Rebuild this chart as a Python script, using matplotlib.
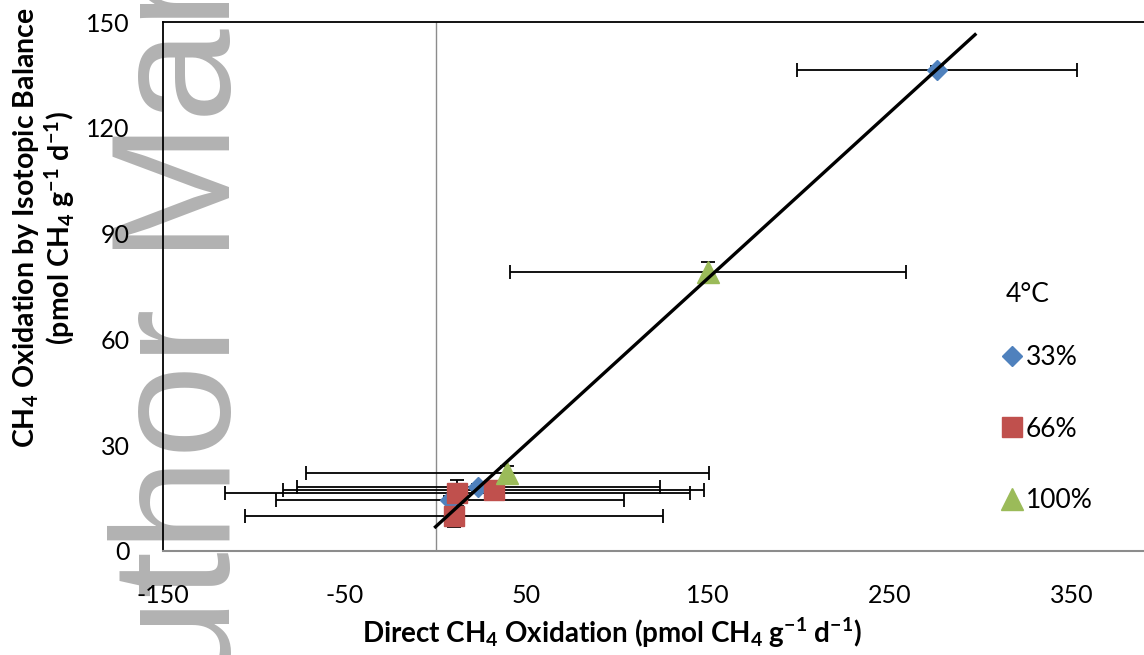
import numpy as np
import matplotlib
matplotlib.use("Agg")
import matplotlib.pyplot as plt
from matplotlib.lines import Line2D

# 4 degC incubations: direct oxidation (x) vs. isotopic balance estimate (y)
pct33_x = [276, 23.5, 8]
pct33_y = [136.4, 18.1, 14.5]
pct33_xerr = [77, 100, 96]
pct33_yerr = [1, 1, 1]

pct66_x = [12, 32, 10]
pct66_y = [16.4, 17.3, 9.8]
pct66_xerr = [128, 116, 115]
pct66_yerr = [3.6, 1, 3]

pct100_x = [39.5, 150]
pct100_y = [22.2, 79]
pct100_xerr = [111, 109]
pct100_yerr = [2, 3]

series_labels = ["33%", "66%", "100%"]
legend_title = "4°C"
x_ticks = [-150, -50, 50, 150, 250, 350]
y_ticks = [0, 30, 60, 90, 120, 150]
trend_span = [0, 297]

BLUE = "#4F81BD"
RED = "#C0504D"
GREEN = "#9BBB59"

plt.rcParams["font.family"] = ["Lato", "DejaVu Sans"]
plt.rcParams["mathtext.default"] = "regular"
plt.rcParams["axes.unicode_minus"] = False

W, H = 1144, 655
fig = plt.figure(figsize=(W / 100, H / 100), dpi=100)
ax = fig.add_axes([163 / W, 1 - 551 / H, 1090 / W, 529 / H])
ax.set_facecolor("none")

# faint manuscript stamp running up the left side, behind everything
fig.text(230 / W, 1 - 803 / H, "Author Manuscript", rotation=90,
         rotation_mode="anchor", ha="left", va="baseline", fontsize=121,
         family="Liberation Sans", color="#b2b2b2", zorder=-1)

series = [
    (pct33_x, pct33_y, pct33_xerr, pct33_yerr, "D", 10.5, BLUE),
    (pct66_x, pct66_y, pct66_xerr, pct66_yerr, "s", 14, RED),
    (pct100_x, pct100_y, pct100_xerr, pct100_yerr, "^", 16.5, GREEN),
]
for x, y, xe, ye, mk, ms, col in series:
    ax.errorbar(x, y, xerr=xe, yerr=ye, fmt="none", ecolor="black",
                elinewidth=1.3, capsize=4.7, capthick=1.3, zorder=2)
    ax.plot(x, y, ls="none", marker=mk, ms=ms, color=col, mec=col, zorder=3)

# linear fit through all points
all_x = np.array(pct33_x + pct66_x + pct100_x, dtype=float)
all_y = np.array(pct33_y + pct66_y + pct100_y, dtype=float)
slope, icpt = np.polyfit(all_x, all_y, 1)
tx = np.array(trend_span, dtype=float)
ax.plot(tx, slope * tx + icpt, color="black", lw=2.4, zorder=4)

ax.axvline(0, color="#8c8c8c", lw=1, zorder=1)

ax.set_xlim(-150, 450)
ax.set_ylim(0, 150)
ax.set_xticks(x_ticks)
ax.set_yticks(y_ticks)
ax.tick_params(axis="both", length=0, labelsize=18, colors="black")
ax.tick_params(axis="x", pad=24)
ax.tick_params(axis="y", pad=24)

for side in ["left", "top", "right"]:
    ax.spines[side].set_color("black")
    ax.spines[side].set_linewidth(1.3)
ax.spines["bottom"].set_color("#8c8c8c")
ax.spines["bottom"].set_linewidth(1.5)

fig.text(44 / W, 1 - 228 / H,
         "CH$_4$ Oxidation by Isotopic Balance\n(pmol CH$_4$ g$^{-1}$ d$^{-1}$)",
         rotation=90, ha="center", va="center", fontsize=20.5,
         fontweight="bold", linespacing=1.05)
fig.text(612 / W, 1 - 633 / H,
         "Direct CH$_4$ Oxidation (pmol CH$_4$ g$^{-1}$ d$^{-1}$)",
         ha="center", va="center", fontsize=20, fontweight="bold")

# legend: heading as its own text, entries spaced out below it
fig.text(1006 / W, 1 - 295 / H, legend_title, ha="left", va="center",
         fontsize=19)
handles = [Line2D([], [], ls="none", marker=mk, ms=ms, color=col, mec=col)
           for _, _, _, _, mk, ms, col in series]
fig.legend(handles, series_labels, loc="upper left",
           bbox_to_anchor=(1001 / W, 1 - 345 / H), frameon=False,
           fontsize=19, labelspacing=1.77, handlelength=0.8,
           handletextpad=0.15, borderpad=0, borderaxespad=0)

fig.savefig("out.png", dpi=100)
